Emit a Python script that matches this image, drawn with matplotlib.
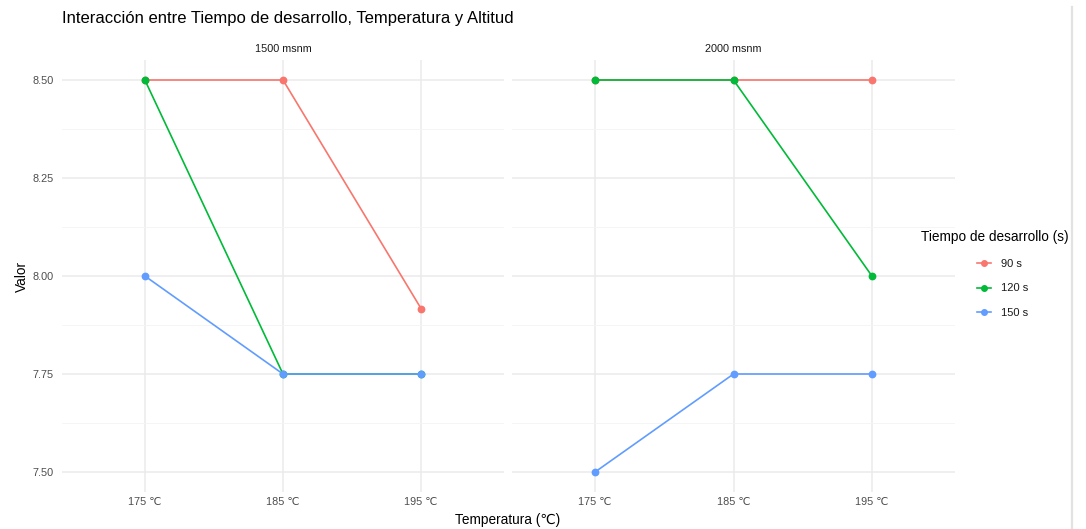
import matplotlib
matplotlib.use("Agg")
import matplotlib.pyplot as plt
from matplotlib.lines import Line2D

plt.rcParams["font.family"] = ["Liberation Sans", "DejaVu Sans"]

# ── Datos ────────────────────────────────────────────────────────────────────
temperaturas = ["175 ℃", "185 ℃", "195 ℃"]
altitudes = ["1500 msnm", "2000 msnm"]
tiempos = ["90 s", "120 s", "150 s"]

valores_1500 = {
    "90 s": [8.50, 8.50, 7.9167],
    "120 s": [8.50, 7.75, 7.75],
    "150 s": [8.00, 7.75, 7.75],
}
valores_2000 = {
    "90 s": [8.50, 8.50, 8.50],
    "120 s": [8.50, 8.50, 8.00],
    "150 s": [7.50, 7.75, 7.75],
}

colores = {"90 s": "#F8766D", "120 s": "#00BA38", "150 s": "#619CFF"}

yticks = [7.50, 7.75, 8.00, 8.25, 8.50]
yminor = [7.625, 7.875, 8.125, 8.375]

# ── Figura ───────────────────────────────────────────────────────────────────
W, H = 1086, 529
fig = plt.figure(figsize=(W / 100, H / 100), dpi=100)


def caja(x0, x1, y0, y1):
    return [x0 / W, 1 - y1 / H, (x1 - x0) / W, (y1 - y0) / H]


paneles = [
    (caja(62, 504, 60.4, 491.6), altitudes[0], valores_1500),
    (caja(512, 955, 60.4, 491.6), altitudes[1], valores_2000),
]

for i, (pos, nombre, datos) in enumerate(paneles):
    ax = fig.add_axes(pos)
    ax.set_facecolor("white")
    for s in ax.spines.values():
        s.set_visible(False)

    xs = list(range(len(temperaturas)))
    for t in tiempos:
        ax.plot(xs, datos[t], color=colores[t], linewidth=1.2,
                marker="o", markersize=4.6, zorder=3)

    ax.set_xlim(-0.6, len(temperaturas) - 1 + 0.6)
    ax.set_ylim(7.45, 8.55)
    ax.set_xticks(xs)
    ax.set_xticklabels(temperaturas)
    ax.set_yticks(yticks)
    ax.set_yticks(yminor, minor=True)
    if i == 0:
        ax.set_yticklabels([f"{v:.2f}" for v in yticks])
    else:
        ax.set_yticklabels([])

    ax.grid(True, which="major", color="#ebebeb", linewidth=1.1)
    ax.grid(True, which="minor", axis="y", color="#f4f4f4", linewidth=0.6)
    ax.set_axisbelow(True)
    ax.tick_params(which="both", length=0, labelsize=7.8, labelcolor="#4d4d4d")
    ax.tick_params(axis="x", pad=4)
    ax.tick_params(axis="y", pad=6)
    ax.set_title(nombre, fontsize=7.8, color="#1a1a1a", pad=6)

# ── Títulos ──────────────────────────────────────────────────────────────────
fig.text(62 / W, 1 - 19 / H, "Interacción entre Tiempo de desarrollo, Temperatura y Altitud",
         fontsize=12, color="black", ha="left", va="center")
fig.text(508 / W, 1 - 520 / H, "Temperatura (℃)", fontsize=9.8,
         ha="center", va="center")
fig.text(22 / W, 1 - 276 / H, "Valor", fontsize=9.8, rotation=90,
         ha="center", va="center")

# ── Leyenda ──────────────────────────────────────────────────────────────────
fig.text(921 / W, 1 - 237 / H, "Tiempo de desarrollo (s)", fontsize=9.8,
         ha="left", va="center")
handles = [Line2D([0], [0], color=colores[t], linewidth=1.2, marker="o",
                  markersize=4) for t in tiempos]
leg = fig.legend(handles, tiempos, loc="upper left",
                 bbox_to_anchor=(977 / W, 1 - 259 / H),
                 frameon=False, fontsize=8,
                 handlelength=1.3, handletextpad=0.9, labelspacing=1.3,
                 borderaxespad=0, borderpad=0)
for txt in leg.get_texts():
    txt.set_color("#1a1a1a")

# línea gris del borde derecho
fig.add_artist(Line2D([1072 / W, 1072 / W], [0, 1 - 7 / H], color="#e2e2e2",
                      linewidth=1.6, transform=fig.transFigure))

fig.savefig("out.png", dpi=100, facecolor="white")
